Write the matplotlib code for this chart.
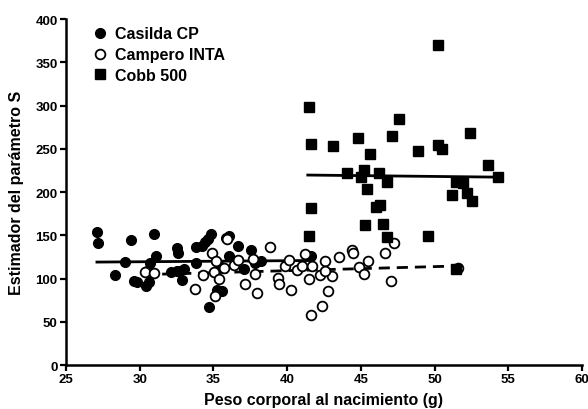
import matplotlib
matplotlib.use("Agg")
import matplotlib.pyplot as plt

plt.rcParams['font.family'] = ['Liberation Sans', 'DejaVu Sans']
plt.rcParams['font.weight'] = 'bold'

# Casilda CP (filled circles)
casilda_x = [27.1, 27.2, 28.3, 29.0, 29.4, 29.6, 29.85, 30.4, 30.65, 30.5,
             30.7, 30.97, 31.1, 32.1, 32.5, 32.7, 33.0, 32.9, 32.5, 32.58,
             33.8, 33.85, 34.2, 34.46, 34.64, 34.86, 34.7, 35.25, 35.58, 35.5,
             35.85, 36.05, 36.05, 36.67, 37.58, 37.1, 37.8, 38.2, 41.65]
casilda_y = [153.5, 141, 104, 119, 145, 97, 96, 91.5, 95.5, 108.5,
             118, 151.8, 126, 107.5, 109, 108.2, 111, 98, 134.8, 129,
             117.5, 136, 137.5, 142, 145.5, 152, 67, 87, 85.5, 113.5,
             147, 149, 126.5, 137.2, 133, 110.5, 118.5, 120.2, 126]

# Campero INTA (open circles)
campero_x = [30.34, 31.0, 33.74, 34.3, 34.88, 35.2, 35.05, 35.39, 35.13, 35.73,
             35.9, 36.37, 36.68, 37.16, 37.7, 37.85, 37.94, 38.82, 39.41, 39.48,
             40.27, 39.87, 40.16, 40.66, 41.0, 41.2, 41.45, 41.68, 41.63, 42.36,
             42.77, 42.58, 42.24, 43.04, 42.58, 43.49, 44.4, 44.46, 44.85, 45.18,
             45.48, 46.66, 47.27, 47.06, 51.6]
campero_y = [107.3, 106.8, 88, 103.8, 129, 120, 107.3, 100, 79.5, 112,
             146, 115.5, 121.7, 93.5, 122.7, 105.6, 82.8, 137, 100.3, 93.4,
             87.2, 115, 121.9, 110, 115, 128.5, 99.5, 114.2, 58.2, 67.9,
             86, 120.7, 104.2, 102.6, 109, 124.6, 133.4, 129.6, 113.8, 105.3,
             120.7, 129.6, 141.2, 97.6, 112.5]

# Cobb 500 (filled squares)
cobb_x = [41.5, 41.65, 41.65, 41.5, 43.1, 44.05, 44.8, 45.0, 45.2, 45.45,
          45.6, 45.3, 46.0, 46.3, 46.25, 46.5, 46.75, 46.8, 47.1, 47.6,
          48.9, 49.55, 50.2, 50.2, 50.5, 51.45, 51.95, 51.15, 52.2, 52.55,
          52.4, 53.6, 54.3, 51.45]
cobb_y = [297.8, 255.4, 181.3, 149, 253.5, 222, 262, 217, 226, 203,
          243.8, 161.5, 182.5, 185, 222.5, 162.5, 211.8, 148, 265, 284.5,
          247, 149.7, 370, 254.6, 250, 212, 210, 196, 199, 189.5,
          267.7, 231.8, 217.2, 111]

# regression lines (end points)
casilda_fit_x = [27.1, 41.7]
casilda_fit_y = [119.0, 120.8]
campero_fit_x = [30.3, 51.6]
campero_fit_y = [104.5, 114.5]
cobb_fit_x = [41.4, 54.3]
cobb_fit_y = [219.6, 217.2]

fig = plt.figure(figsize=(5.88, 4.10), dpi=100)
ax = fig.add_axes([0.1122, 0.1073, 0.8776, 0.8439])

ax.plot(casilda_x, casilda_y, 'o', color='black', markersize=7,
        label='Casilda CP', zorder=3)
ax.plot(campero_x, campero_y, 'o', markerfacecolor='white', markeredgecolor='black',
        markeredgewidth=1.3, markersize=7, label='Campero INTA', zorder=3)
ax.plot(cobb_x, cobb_y, 's', color='black', markersize=7,
        label='Cobb 500', zorder=3)

ax.plot(casilda_fit_x, casilda_fit_y, '-', color='black', linewidth=2, zorder=2)
ax.plot(campero_fit_x, campero_fit_y, '--', color='black', linewidth=2,
        dashes=(4, 2.5), zorder=2)
ax.plot(cobb_fit_x, cobb_fit_y, '-', color='black', linewidth=2, zorder=2)

ax.set_xlim(25, 60)
ax.set_ylim(0, 400)
ax.set_xticks([25, 30, 35, 40, 45, 50, 55, 60])
ax.set_yticks([0, 50, 100, 150, 200, 250, 300, 350, 400])

for side in ['top', 'right']:
    ax.spines[side].set_visible(False)
for side in ['left', 'bottom']:
    ax.spines[side].set_linewidth(1.8)

ax.tick_params(direction='out', length=4, width=1.6, labelsize=9.5, pad=2)
for lbl in ax.get_xticklabels() + ax.get_yticklabels():
    lbl.set_fontweight('bold')

ax.set_xlabel('Peso corporal al nacimiento (g)', fontsize=11.5, fontweight='bold', labelpad=5)
ax.set_ylabel('Estimador del parámetro S', fontsize=11.5, fontweight='bold', labelpad=8)

ax.legend(loc='upper left', bbox_to_anchor=(0.022, 1.02), frameon=False,
          handlelength=1.0, handletextpad=0.45, labelspacing=0.36,
          prop={'size': 11.5, 'weight': 'bold'})

fig.savefig('out.png', dpi=100)
